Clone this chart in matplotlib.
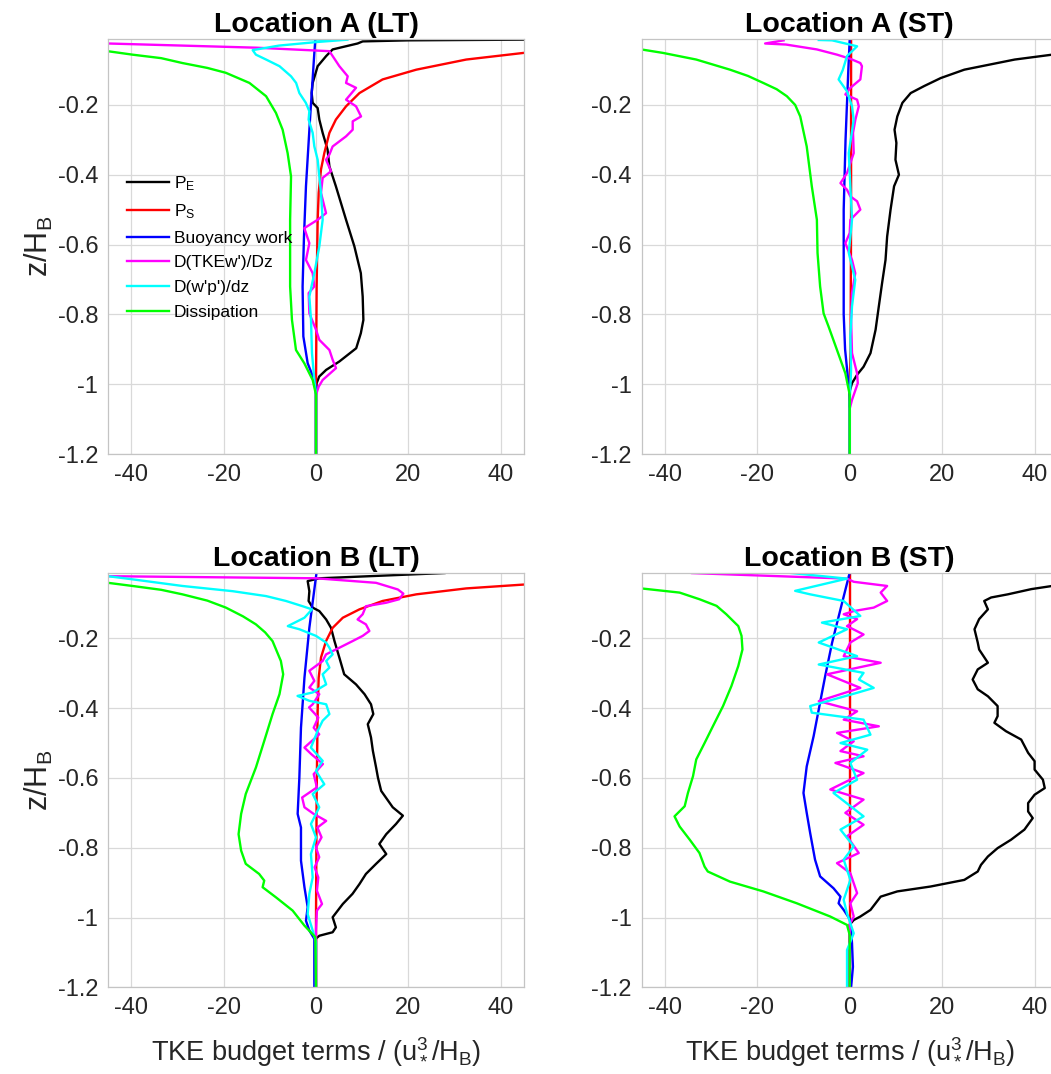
import numpy as np
import matplotlib
matplotlib.use("Agg")
import matplotlib.pyplot as plt

plt.rcParams["font.family"] = ["Liberation Sans", "DejaVu Sans"]
plt.rcParams["mathtext.fontset"] = "custom"
plt.rcParams["mathtext.rm"] = "Liberation Sans"
plt.rcParams["mathtext.it"] = "Liberation Sans:italic"
plt.rcParams["mathtext.bf"] = "Liberation Sans:bold"
plt.rcParams["axes.unicode_minus"] = False

# profiles as (value, z/H_B) pairs, read top -> bottom
# ---- Location A, LT ----
A_LT_PE = [(55, -0.012), (45, -0.013), (20, -0.015), (10.1, -0.018), (9.0, -0.024), (3.6, -0.041),
           (2.2, -0.060), (0.36, -0.089), (-0.72, -0.137), (-0.94, -0.166), (-0.72, -0.194),
           (0.36, -0.209), (0.72, -0.242), (1.44, -0.280), (2.5, -0.328), (2.9, -0.376), (4.3, -0.433),
           (6.5, -0.529), (8.3, -0.605), (9.7, -0.682), (10.1, -0.749), (10.25, -0.816), (9.7, -0.854),
           (8.7, -0.897), (5.05, -0.935), (2.2, -0.959), (0.7, -0.978), (0.14, -0.997), (0, -1.02), (0, -1.2)]
A_LT_PS = [(60, -0.042), (44.9, -0.051), (32.5, -0.070), (21.7, -0.099), (14.4, -0.127), (9.4, -0.166),
           (6.5, -0.204), (4.3, -0.242), (2.9, -0.280), (1.8, -0.338), (1.08, -0.385), (0.58, -0.452),
           (0.36, -0.529), (0.14, -0.720), (0, -1.0), (0, -1.2)]
A_LT_BW = [(-0.14, -0.012), (-0.36, -0.051), (-1.3, -0.242), (-2.17, -0.433), (-2.6, -0.577),
           (-2.9, -0.720), (-2.74, -0.863), (-1.8, -0.940), (-0.36, -0.988), (0, -1.01), (0, -1.2)]
A_LT_DT = [(-60, -0.021), (-45, -0.024), (-13, -0.036), (2.9, -0.046), (3.6, -0.060), (5.05, -0.089),
           (6.86, -0.118), (6.5, -0.137), (8.66, -0.151), (6.5, -0.185), (8.66, -0.204), (9.75, -0.233),
           (7.94, -0.247), (7.94, -0.271), (6.5, -0.290), (3.6, -0.319), (2.9, -0.342), (2.17, -0.357),
           (3.25, -0.390), (1.44, -0.409), (1.08, -0.452), (2.17, -0.510), (0.36, -0.529), (-2.53, -0.553),
           (-1.44, -0.596), (-2.17, -0.644), (-0.72, -0.682), (-0.36, -0.720), (-1.59, -0.739),
           (-1.44, -0.797), (0, -0.844), (0.72, -0.873), (2.9, -0.902), (3.6, -0.930), (4.33, -0.954),
           (1.44, -0.988), (0.58, -1.007), (0, -1.03), (0, -1.2)]
A_LT_DP = [(-14.5, -0.011), (6.9, -0.013), (0, -0.020), (-8, -0.030), (-13.7, -0.043), (-13, -0.056),
           (-10.8, -0.070), (-7.9, -0.089), (-5.4, -0.118), (-4.3, -0.137), (-3.6, -0.166), (-2.2, -0.194),
           (-1.44, -0.218), (-1.6, -0.242), (-0.72, -0.280), (-0.36, -0.319), (0.36, -0.357),
           (0.72, -0.405), (1.08, -0.452), (1.44, -0.529), (0.72, -0.605), (-0.36, -0.682),
           (-1.44, -0.749), (-1.08, -0.816), (-0.87, -0.911), (-0.36, -0.988), (0, -1.03), (0, -1.2)]
A_LT_DS = [(-60, -0.036), (-45.1, -0.046), (-39.7, -0.056), (-33.5, -0.066), (-28.9, -0.080),
           (-23.5, -0.094), (-19.5, -0.108), (-14.4, -0.137), (-10.8, -0.175), (-8.66, -0.223),
           (-7.22, -0.271), (-6.14, -0.338), (-5.4, -0.405), (-5.6, -0.529), (-5.6, -0.720),
           (-5.2, -0.816), (-4.33, -0.902), (-2.53, -0.940), (-0.72, -0.988), (0, -1.03), (0, -1.2)]

# ---- Location A, ST ----
A_ST_PE = [(60, -0.045), (43.8, -0.056), (35.7, -0.070), (24.8, -0.099), (19.7, -0.123), (16.1, -0.146),
           (13.2, -0.166), (11.4, -0.194), (10.3, -0.233), (9.7, -0.271), (10.1, -0.309), (9.9, -0.357),
           (10.65, -0.400), (9.6, -0.433), (8.84, -0.500), (8.1, -0.577), (7.75, -0.644), (7.0, -0.711),
           (6.3, -0.777), (5.6, -0.844), (4.5, -0.911), (3.0, -0.950), (1.6, -0.973), (0.5, -0.997),
           (0, -1.02), (0, -1.2)]
A_ST_PS = [(0.3, -0.012), (0.3, -0.5), (0.2, -0.9), (0, -1.0), (0, -1.2)]
A_ST_BW = [(0, -0.012), (-0.3, -0.1), (-0.9, -0.3), (-1.3, -0.5), (-1.3, -0.8), (-1.0, -0.9),
           (-0.4, -0.98), (0, -1.02), (0, -1.2)]
A_ST_DT = [(-14.3, -0.015), (-18.3, -0.024), (-13.8, -0.027), (-7.1, -0.041), (-2.75, -0.056),
           (0.15, -0.068), (2.3, -0.080), (2.65, -0.089), (2.3, -0.127), (0.15, -0.151), (-0.94, -0.170),
           (1.6, -0.185), (1.96, -0.204), (1.23, -0.242), (0.72, -0.280), (0.87, -0.338), (-0.58, -0.395),
           (-2.0, -0.424), (-0.58, -0.443), (0.14, -0.462), (1.6, -0.476), (2.3, -0.500), (0.14, -0.529),
           (0, -0.567), (-0.94, -0.596), (0.5, -0.644), (1.2, -0.682), (0.5, -0.739), (0.3, -0.816),
           (0.5, -0.911), (1.6, -0.969), (1.75, -0.997), (0.5, -1.045), (0, -1.07), (0, -1.2)]
A_ST_DP = [(-6.7, -0.014), (-3.8, -0.015), (1.6, -0.032), (-0.58, -0.060), (-1.5, -0.100),
           (-2.4, -0.127), (-0.58, -0.161), (0.5, -0.204), (0.87, -0.242), (-0.2, -0.338), (0.14, -0.433),
           (0.5, -0.529), (-0.2, -0.624), (1.2, -0.701), (0.5, -0.777), (0.14, -0.863), (0.3, -0.959),
           (0, -1.05), (0, -1.2)]
A_ST_DS = [(-60, -0.030), (-45.1, -0.041), (-40.4, -0.051), (-33.2, -0.070), (-25.9, -0.099),
           (-22.0, -0.117), (-18.7, -0.137), (-15.8, -0.155), (-13.6, -0.175), (-11.8, -0.200),
           (-10.7, -0.233), (-9.3, -0.319), (-8.2, -0.433), (-7.1, -0.529), (-6.96, -0.624),
           (-6.4, -0.720), (-5.65, -0.797), (-4.57, -0.835), (-2.75, -0.902), (-0.94, -0.969),
           (0, -1.03), (0, -1.2)]

# ---- Location B, LT ----
B_LT_PE = [(27.8, -0.013), (0.72, -0.028), (-1.8, -0.036), (-1.44, -0.065), (-1.6, -0.093),
           (-0.72, -0.112), (0.72, -0.122), (2.2, -0.146), (3.25, -0.170), (4.0, -0.208), (5.05, -0.255),
           (6.1, -0.303), (8.66, -0.332), (10.5, -0.360), (11.9, -0.389), (12.4, -0.417), (11.2, -0.446),
           (11.9, -0.484), (12.3, -0.522), (13.0, -0.570), (13.4, -0.599), (14.1, -0.637), (16.6, -0.684),
           (18.8, -0.708), (17.3, -0.732), (15.2, -0.761), (13.7, -0.789), (15.2, -0.818), (13.0, -0.846),
           (10.8, -0.875), (9.4, -0.904), (7.9, -0.932), (5.8, -0.961), (4.7, -0.980), (3.6, -0.999),
           (4.3, -1.028), (3.6, -1.042), (0.72, -1.052), (0, -1.06), (0, -1.2)]
B_LT_PS = [(60, -0.036), (44.9, -0.046), (32.5, -0.057), (21.7, -0.074), (14.4, -0.093), (9.4, -0.117),
           (5.8, -0.141), (3.6, -0.170), (2.17, -0.208), (1.08, -0.255), (0.58, -0.313), (0.36, -0.408),
           (0.14, -0.650), (0, -1.0), (0, -1.2)]
B_LT_BW = [(0.1, -0.013), (-1.44, -0.170), (-2.5, -0.313), (-3.25, -0.456), (-3.6, -0.599),
           (-3.97, -0.703), (-3.25, -0.742), (-3.25, -0.837), (-2.5, -0.913), (-1.8, -0.970),
           (-2.17, -1.009), (-1.44, -1.037), (-0.36, -1.061), (-0.36, -1.2)]
B_LT_DT = [(-60, -0.021), (-45, -0.022), (0, -0.028), (13.0, -0.041), (17.7, -0.060), (18.9, -0.072),
           (18.0, -0.088), (15.2, -0.098), (10.8, -0.108), (10.1, -0.131), (9.0, -0.146), (10.8, -0.160),
           (11.55, -0.179), (10.1, -0.193), (7.9, -0.208), (5.05, -0.227), (2.17, -0.246), (1.44, -0.265),
           (-1.44, -0.293), (-0.36, -0.322), (-1.44, -0.341), (0.72, -0.360), (-0.72, -0.389),
           (-1.5, -0.398), (0.5, -0.427), (-0.5, -0.456), (0.7, -0.475), (-2.5, -0.513), (-1.0, -0.532),
           (1.5, -0.560), (-0.5, -0.589), (0.2, -0.627), (-3.0, -0.656), (-2.5, -0.684), (-0.5, -0.703),
           (2.2, -0.723), (0.3, -0.742), (1.2, -0.770), (0, -0.799), (0.7, -0.827), (-0.3, -0.856),
           (0.5, -0.885), (0.2, -0.923), (1.3, -0.961), (0.2, -0.980), (0, -1.037), (0, -1.2)]
B_LT_DP = [(-60, -0.019), (-45, -0.022), (-39.7, -0.031), (-28.9, -0.050), (-18, -0.065),
           (-10.8, -0.079), (-6.5, -0.093), (-2.9, -0.108), (-0.87, -0.117), (-2.5, -0.141),
           (-6.1, -0.165), (-3.6, -0.174), (0, -0.193), (2.17, -0.212), (2.9, -0.227), (3.6, -0.246),
           (2.2, -0.265), (2.9, -0.284), (1.44, -0.303), (2.2, -0.332), (-0.7, -0.355), (-4.0, -0.365),
           (-1.44, -0.379), (2.2, -0.389), (2.9, -0.417), (1.44, -0.436), (0.36, -0.465), (-1.1, -0.513),
           (1.44, -0.551), (0, -0.580), (1.8, -0.618), (-0.72, -0.646), (0.7, -0.684), (-1.1, -0.732),
           (0, -0.770), (-1.1, -0.818), (-0.72, -0.885), (-1.44, -0.932), (-1.8, -0.990), (-0.72, -1.037),
           (0, -1.07), (0, -1.2)]
B_LT_DS = [(-60, -0.033), (-45, -0.041), (-39.7, -0.050), (-33.5, -0.061), (-28.9, -0.074),
           (-23.5, -0.092), (-19.5, -0.112), (-15.8, -0.137), (-13.0, -0.160), (-11.0, -0.183),
           (-9.4, -0.208), (-7.6, -0.265), (-7.1, -0.303), (-7.9, -0.360), (-9.4, -0.417),
           (-11.2, -0.494), (-13.0, -0.570), (-15.2, -0.646), (-16.2, -0.703), (-16.75, -0.761),
           (-16.2, -0.808), (-15.2, -0.846), (-12.3, -0.875), (-11.2, -0.894), (-11.55, -0.913),
           (-8.66, -0.942), (-5.05, -0.980), (-2.5, -1.023), (-0.14, -1.056), (0, -1.2)]

# ---- Location B, ST ----
B_ST_PE = [(55, -0.042), (43.8, -0.050), (39.3, -0.059), (34.2, -0.074), (30.6, -0.083), (29.1, -0.093),
           (29.9, -0.117), (28.0, -0.145), (27.0, -0.174), (27.7, -0.212), (28.0, -0.232), (29.9, -0.270),
           (27.7, -0.289), (26.6, -0.318), (27.7, -0.346), (29.9, -0.366), (32.0, -0.394), (32.0, -0.423),
           (31.3, -0.442), (33.8, -0.466), (37.1, -0.490), (38.6, -0.528), (40.0, -0.552), (40.0, -0.576),
           (41.8, -0.605), (42.2, -0.629), (40.0, -0.648), (38.6, -0.672), (38.6, -0.696), (39.6, -0.715),
           (37.8, -0.748), (34.9, -0.777), (32.0, -0.801), (29.9, -0.825), (28.4, -0.849), (27.7, -0.868),
           (24.8, -0.892), (17.5, -0.911), (10.3, -0.925), (6.7, -0.940), (5.6, -0.959), (4.5, -0.978),
           (2.3, -0.997), (0.87, -1.007), (0, -1.02), (0, -1.2)]
B_ST_PS = [(0, -0.012), (0, -1.2)]
B_ST_BW = [(0, -0.012), (-2.0, -0.117), (-3.8, -0.212), (-5.3, -0.308), (-6.7, -0.404), (-7.8, -0.480),
           (-9.3, -0.567), (-10.0, -0.643), (-9.3, -0.700), (-8.55, -0.758), (-7.5, -0.834),
           (-6.4, -0.882), (-3.5, -0.916), (-2.0, -0.940), (-2.4, -0.959), (-1.3, -0.978), (0.14, -1.007),
           (0.5, -1.074), (0.7, -1.141), (0.3, -1.2)]
B_ST_DT = [(-13.3, -0.012), (-34.3, -0.013), (-0.6, -0.029), (0.87, -0.038), (8.1, -0.050),
           (6.7, -0.069), (8.1, -0.093), (5.2, -0.112), (0.87, -0.122), (-1.3, -0.131), (1.6, -0.145),
           (-0.58, -0.165), (3.0, -0.189), (0.14, -0.212), (-1.3, -0.251), (6.7, -0.270), (-4.9, -0.303),
           (2.3, -0.342), (-6.7, -0.380), (1.6, -0.409), (-1.3, -0.433), (6.3, -0.452), (-2.75, -0.471),
           (0.87, -0.495), (-2.0, -0.523), (3.0, -0.538), (-3.1, -0.557), (3.0, -0.586), (-4.2, -0.633),
           (3.0, -0.662), (-0.94, -0.700), (3.0, -0.734), (-0.58, -0.767), (1.96, -0.815), (-2.75, -0.844),
           (0.14, -0.873), (1.6, -0.930), (0.14, -0.959), (0.87, -0.997), (0, -1.02), (0, -1.2)]
B_ST_DP = [(-19.4, -0.0115), (-13.3, -0.012), (-0.6, -0.029), (-11.8, -0.064), (-8.55, -0.074),
           (-1.3, -0.093), (2.3, -0.136), (-6.0, -0.155), (-0.58, -0.174), (-6.7, -0.212), (1.6, -0.251),
           (-6.7, -0.275), (3.0, -0.299), (2.0, -0.318), (5.2, -0.342), (1.6, -0.356), (-8.55, -0.394),
           (-8.2, -0.413), (3.0, -0.433), (4.5, -0.476), (-2.0, -0.500), (3.8, -0.519), (0.14, -0.557),
           (1.6, -0.605), (-3.5, -0.643), (3.0, -0.710), (-2.0, -0.748), (0.87, -0.796), (-1.3, -0.834),
           (0.14, -0.892), (-1.3, -0.949), (-0.58, -0.988), (0.87, -1.045), (-0.58, -1.093), (-0.58, -1.2)]
B_ST_DS = [(-60, -0.045), (-45.1, -0.057), (-36.8, -0.069), (-32.5, -0.088), (-28.8, -0.107),
           (-26.7, -0.131), (-24.1, -0.165), (-23.4, -0.193), (-23.2, -0.232), (-24.1, -0.279),
           (-25.6, -0.337), (-27.4, -0.394), (-29.6, -0.452), (-31.4, -0.500), (-33.2, -0.547),
           (-33.9, -0.595), (-35.0, -0.643), (-35.7, -0.681), (-37.9, -0.710), (-36.8, -0.739),
           (-34.6, -0.777), (-32.5, -0.815), (-31.4, -0.854), (-30.7, -0.868), (-25.9, -0.897),
           (-18.7, -0.925), (-11.45, -0.959), (-4.2, -0.997), (-0.58, -1.021), (0, -1.05), (0, -1.2)]

TITLES = ["Location A (LT)", "Location A (ST)", "Location B (LT)", "Location B (ST)"]
LABELS = [r"P$_\mathregular{E}$", r"P$_\mathregular{S}$", "Buoyancy work",
          "D(TKEw')/Dz", "D(w'p')/dz", "Dissipation"]
COLORS = ["#000000", "#ff0000", "#0000ff", "#ff00ff", "#00ffff", "#00ff00"]
PANELS = [
    [A_LT_PE, A_LT_PS, A_LT_BW, A_LT_DT, A_LT_DP, A_LT_DS],
    [A_ST_PE, A_ST_PS, A_ST_BW, A_ST_DT, A_ST_DP, A_ST_DS],
    [B_LT_PE, B_LT_PS, B_LT_BW, B_LT_DT, B_LT_DP, B_LT_DS],
    [B_ST_PE, B_ST_PS, B_ST_BW, B_ST_DT, B_ST_DP, B_ST_DS],
]
XTICKS = [-40, -20, 0, 20, 40]
YTICKS = [-1.2, -1.0, -0.8, -0.6, -0.4, -0.2]
YTICKLABELS = ["-1.2", "-1", "-0.8", "-0.6", "-0.4", "-0.2"]

W, H = 1051, 1074
fig = plt.figure(figsize=(W / 100, H / 100), dpi=100)
lefts = [108, 641.7]
tops = [39.3, 572.7]
aw, ah = 416, 414.7
gridc = "#d9d9d9"
txtc = "#262626"

for k, (title, curves) in enumerate(zip(TITLES, PANELS)):
    r, c = divmod(k, 2)
    ax = fig.add_axes([lefts[c] / W, 1 - (tops[r] + ah) / H, aw / W, ah / H])
    for lab, col, pts in zip(LABELS, COLORS, curves):
        arr = np.array(pts)
        ax.plot(arr[:, 0], arr[:, 1], color=col, lw=1.7, label=lab)
    ax.set_xlim(-45, 45)
    ax.set_ylim(-1.2, -0.012)
    ax.set_xticks(XTICKS)
    ax.set_yticks(YTICKS)
    ax.set_yticklabels(YTICKLABELS)
    ax.grid(True, color=gridc, lw=0.9)
    ax.set_axisbelow(True)
    ax.tick_params(length=0, labelsize=17, colors=txtc, pad=7)
    for s in ax.spines.values():
        s.set_color("#c4c4c4")
        s.set_linewidth(0.9)
    ax.set_title(title, fontsize=20.5, fontweight="bold", pad=5)
    if c == 0:
        ax.set_ylabel(r"z/H$_\mathregular{B}$", fontsize=22, color=txtc, labelpad=2)
    if r == 1:
        ax.set_xlabel(r"TKE budget terms / (u$_*^\mathregular{3}$/H$_\mathregular{B}$)",
                      fontsize=19.5, color=txtc, labelpad=12)
    if k == 0:
        ax.legend(loc="upper left", bbox_to_anchor=(0.045, 0.675), frameon=False,
                  fontsize=12.5, handlelength=2.45, handletextpad=0.25, labelspacing=0.55,
                  borderpad=0, borderaxespad=0)

fig.savefig("out.png", dpi=100)
